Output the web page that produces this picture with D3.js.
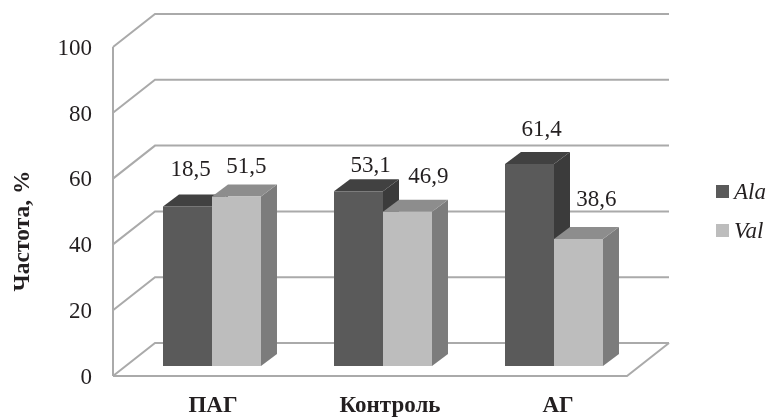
<!DOCTYPE html>
<html>
<head>
<meta charset="utf-8">
<script src="https://cdn.jsdelivr.net/npm/d3@7"></script>
<style>
    body { margin: 0; background: #fff; }
    svg { display: block; filter: blur(0.35px); }
    text { font-family: "Liberation Serif", serif; fill: #231f20; }
</style>
</head>
<body>
<div id="chart"></div>
<script>
const categories = ["ПАГ", "Контроль", "АГ"];
const seriesNames = ["Ala", "Val"];
const alaValues = [48.5, 53.1, 61.4];
const valValues = [51.5, 46.9, 38.6];
// The printed label of the first bar differs from its height in the source figure
const alaLabels = ["18,5", "53,1", "61,4"];
const valLabels = ["51,5", "46,9", "38,6"];
const yTicks = [0, 20, 40, 60, 80, 100];

const width = 769, height = 417;
const depthX = 42, depthY = 33;    // floor/wall skew
const barDepthX = 16, barDepthY = 12;
const floorGap = 10;               // bars stand this far behind the front floor edge

const colors = {
    Ala: {front: "#5a5a5a", top: "#414141", side: "#3b3b3b"},
    Val: {front: "#bdbdbd", top: "#8d8d8d", side: "#7c7c7c"}
};

const svg = d3.select("#chart").append("svg")
    .attr("width", width)
    .attr("height", height);

const xScale = d3.scaleBand()
    .domain(categories)
    .range([126.5, 639.5])
    .paddingInner(0.427)
    .paddingOuter(0.2135);
const seriesScale = d3.scaleBand()
    .domain(seriesNames)
    .range([0, xScale.bandwidth()]);
const yScale = d3.scaleLinear().domain([0, 100]).range([376, 47]);

// Walls and floor
const wallLeft = 113, wallBack = wallLeft + depthX, wallRight = 669;
const grid = svg.append("g")
    .attr("fill", "none")
    .attr("stroke", "#aaaaaa")
    .attr("stroke-width", 2);

grid.selectAll("polyline")
    .data(yTicks)
    .join("polyline")
    .attr("points", d => {
        const yPos = yScale(d);
        return `${wallLeft},${yPos} ${wallBack},${yPos - depthY} ${wallRight},${yPos - depthY}`;
    });

grid.append("line")
    .attr("x1", wallLeft).attr("x2", wallLeft)
    .attr("y1", yScale(100)).attr("y2", yScale(0));

grid.append("polyline")
    .attr("points", `${wallLeft},${yScale(0)} ${wallRight - depthX},${yScale(0)} ${wallRight},${yScale(0) - depthY}`);

// Bars
const rows = categories.flatMap((category, i) => [
    {category, series: "Ala", value: alaValues[i], label: alaLabels[i]},
    {category, series: "Val", value: valValues[i], label: valLabels[i]}
]);

const bars = svg.append("g").selectAll("g")
    .data(rows)
    .join("g")
    .attr("transform", d => `translate(${xScale(d.category) + seriesScale(d.series)},${-floorGap})`);

const barW = seriesScale.bandwidth();

bars.append("polygon")
    .attr("fill", d => colors[d.series].side)
    .attr("points", d => {
        const t = yScale(d.value), b = yScale(0);
        return `${barW},${t} ${barW + barDepthX},${t - barDepthY} ${barW + barDepthX},${b - barDepthY} ${barW},${b}`;
    });

bars.append("polygon")
    .attr("fill", d => colors[d.series].top)
    .attr("points", d => {
        const t = yScale(d.value);
        return `0,${t} ${barDepthX},${t - barDepthY} ${barW + barDepthX},${t - barDepthY} ${barW},${t}`;
    });

bars.append("rect")
    .attr("fill", d => colors[d.series].front)
    .attr("x", 0)
    .attr("y", d => yScale(d.value))
    .attr("width", barW)
    .attr("height", d => yScale(0) - yScale(d.value));

// Value labels, hand placed in the original so each gets a small nudge
const labelNudge = [[-5, 6], [2, 0], [4, -5], [13, 5], [4, 4], [10, 9]];
svg.append("g").selectAll("text")
    .data(rows)
    .join("text")
    .attr("text-anchor", "middle")
    .attr("font-size", 23)
    .attr("x", (d, i) => xScale(d.category) + seriesScale(d.series) + barW / 2 + barDepthX / 2 + labelNudge[i][0])
    .attr("y", (d, i) => yScale(d.value) - floorGap - barDepthY - 12 - labelNudge[i][1])
    .text(d => d.label);

// Axes
const yAxisG = svg.append("g")
    .attr("transform", "translate(98,0)")
    .call(d3.axisLeft(yScale).tickValues(yTicks).tickSize(0).tickPadding(6));
yAxisG.select(".domain").remove();
yAxisG.selectAll("text")
    .attr("font-size", 23)
    .style("font-family", "Liberation Serif");

const categoryNudge = [1, 7, 4];
const xAxisG = svg.append("g")
    .attr("transform", "translate(0,390)")
    .call(d3.axisBottom(xScale).tickSize(0).tickPadding(6));
xAxisG.select(".domain").remove();
xAxisG.selectAll("text")
    .attr("font-size", 23)
    .attr("font-weight", "bold")
    .attr("dx", (d, i) => categoryNudge[i])
    .style("font-family", "Liberation Serif");

svg.append("text")
    .attr("transform", "translate(29,231) rotate(-90)")
    .attr("text-anchor", "middle")
    .attr("font-size", 23.5)
    .attr("font-weight", "bold")
    .text("Частота, %");

// Legend
const legend = svg.append("g").selectAll("g")
    .data(seriesNames)
    .join("g")
    .attr("transform", (d, i) => `translate(716,${185 + i * 39})`);

legend.append("rect")
    .attr("width", 13)
    .attr("height", 13)
    .attr("fill", d => colors[d].front);

legend.append("text")
    .attr("x", 18)
    .attr("y", 14)
    .attr("font-size", 23)
    .attr("font-style", "italic")
    .text(d => d);
</script>
</body>
</html>
